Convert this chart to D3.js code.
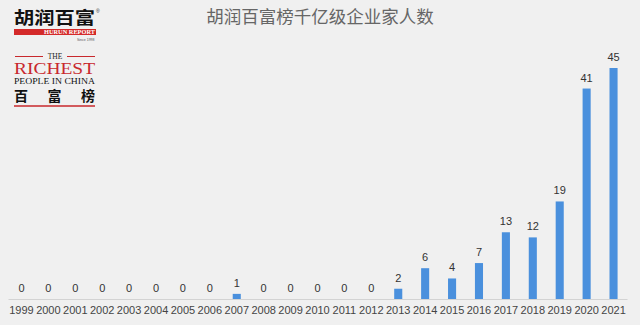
<!DOCTYPE html>
<html>
<head>
<meta charset="utf-8">
<script src="https://cdn.jsdelivr.net/npm/d3@7"></script>
<style>
  body { margin: 0; background: #f0f0f0; }
  svg { display: block; }
</style>
</head>
<body>
<div id="chart"></div>
<script>
// years on the x axis
var years = ["1999","2000","2001","2002","2003","2004","2005","2006","2007","2008","2009","2010",
             "2011","2012","2013","2014","2015","2016","2017","2018","2019","2020","2021"]
// number of entrepreneurs worth 100bn+ yuan
var counts = [0,0,0,0,0,0,0,0,1,0,0,0,0,0,2,6,4,7,13,12,19,41,45]

var chartTitle = "胡润百富榜千亿级企业家人数"

var width = 640, height = 325

let svg = d3.select("#chart")
    .append("svg")
    .attr("width", width)
    .attr("height", height)

svg.append("rect")
    .attr("width", width)
    .attr("height", height)
    .attr("fill", "#f0f0f0")

// x scale
var x = d3.scaleBand()
    .domain(years)
    .range([8, 627])
    .paddingInner(0.7)
    .paddingOuter(0.35)

// y scale
var y = d3.scaleLinear()
    .domain([0, 45])
    .range([299, 68])

// bars
svg.append("g")
    .selectAll("rect")
    .data(counts)
    .enter().append("rect")
        .attr("x", function(d, i) { return x(years[i]) })
        .attr("y", function(d) { return y(d) })
        .attr("width", x.bandwidth())
        .attr("height", function(d) { return y(0) - y(d) })
        .attr("fill", "#4a90dd")

// value labels
svg.append("g")
    .selectAll("text")
    .data(counts)
    .enter().append("text")
        .attr("x", function(d, i) { return x(years[i]) + x.bandwidth()/2 })
        .attr("y", function(d) { return y(d) - 7 })
        .attr("text-anchor", "middle")
        .style("font-family", "Liberation Sans, Arial, sans-serif")
        .style("font-size", "11px")
        .style("fill", "#333")
        .text(function(d) { return d })

// x axis
var xAxis = svg.append("g")
    .attr("transform", "translate(0,299)")
    .call(d3.axisBottom(x).tickSize(0).tickPadding(7))
xAxis.select(".domain").attr("stroke", "#d3d3d3")
xAxis.selectAll("text")
    .style("font-family", "Liberation Sans, Arial, sans-serif")
    .style("font-size", "11px")
    .style("fill", "#444")

// title
svg.append("text")
    .attr("x", 320)
    .attr("y", 23)
    .attr("text-anchor", "middle")
    .style("font-family", "Noto Sans CJK SC, sans-serif")
    .style("font-size", "17.5px")
    .style("fill", "#666")
    .text(chartTitle)

// logo
var logo = svg.append("g")

logo.append("text")
    .attr("x", 14).attr("y", 24)
    .attr("textLength", 81).attr("lengthAdjust", "spacingAndGlyphs")
    .style("font-family", "Noto Sans CJK SC, sans-serif")
    .style("font-weight", "bold")
    .style("font-size", "17px")
    .style("fill", "#111")
    .text("胡润百富")
logo.append("text")
    .attr("x", 96).attr("y", 13)
    .style("font-family", "Liberation Sans, sans-serif")
    .style("font-size", "5px")
    .style("fill", "#333")
    .text("®")

logo.append("rect")
    .attr("x", 14).attr("y", 29)
    .attr("width", 82).attr("height", 6)
    .attr("fill", "#d42a2a")
logo.append("text")
    .attr("x", 44).attr("y", 34.3)
    .attr("textLength", 51).attr("lengthAdjust", "spacingAndGlyphs")
    .style("font-family", "Liberation Serif, serif")
    .style("font-size", "6px")
    .style("font-weight", "bold")
    .style("fill", "#fff")
    .text("HURUN REPORT")
logo.append("text")
    .attr("x", 77).attr("y", 40.5)
    .style("font-family", "Liberation Sans, sans-serif")
    .style("font-size", "3.5px")
    .style("fill", "#555")
    .text("Since 1998")

logo.append("line")
    .attr("x1", 15).attr("x2", 43).attr("y1", 56.5).attr("y2", 56.5)
    .attr("stroke", "#c8282d").attr("stroke-width", 1)
logo.append("line")
    .attr("x1", 67).attr("x2", 95).attr("y1", 56.5).attr("y2", 56.5)
    .attr("stroke", "#c8282d").attr("stroke-width", 1)
logo.append("text")
    .attr("x", 55).attr("y", 59)
    .attr("text-anchor", "middle")
    .style("font-family", "Liberation Serif, serif")
    .style("font-size", "7.5px")
    .style("fill", "#222")
    .text("THE")
logo.append("text")
    .attr("x", 14).attr("y", 73.5)
    .attr("textLength", 81).attr("lengthAdjust", "spacingAndGlyphs")
    .style("font-family", "Liberation Serif, serif")
    .style("font-size", "16px")
    .style("fill", "#c8282d")
    .text("RICHEST")
logo.append("text")
    .attr("x", 14).attr("y", 84)
    .attr("textLength", 81).attr("lengthAdjust", "spacingAndGlyphs")
    .style("font-family", "Liberation Serif, serif")
    .style("font-size", "8px")
    .style("fill", "#111")
    .text("PEOPLE IN CHINA")
logo.append("text")
    .attr("x", 14).attr("y", 100.5)
    .attr("textLength", 81).attr("lengthAdjust", "spacing")
    .style("font-family", "Noto Sans CJK SC, sans-serif")
    .style("font-size", "14px")
    .style("font-weight", "bold")
    .style("fill", "#111")
    .text("百富榜")
logo.append("line")
    .attr("x1", 14).attr("x2", 95).attr("y1", 106).attr("y2", 106)
    .attr("stroke", "#c8282d").attr("stroke-width", 1.5)
</script>
</body>
</html>
